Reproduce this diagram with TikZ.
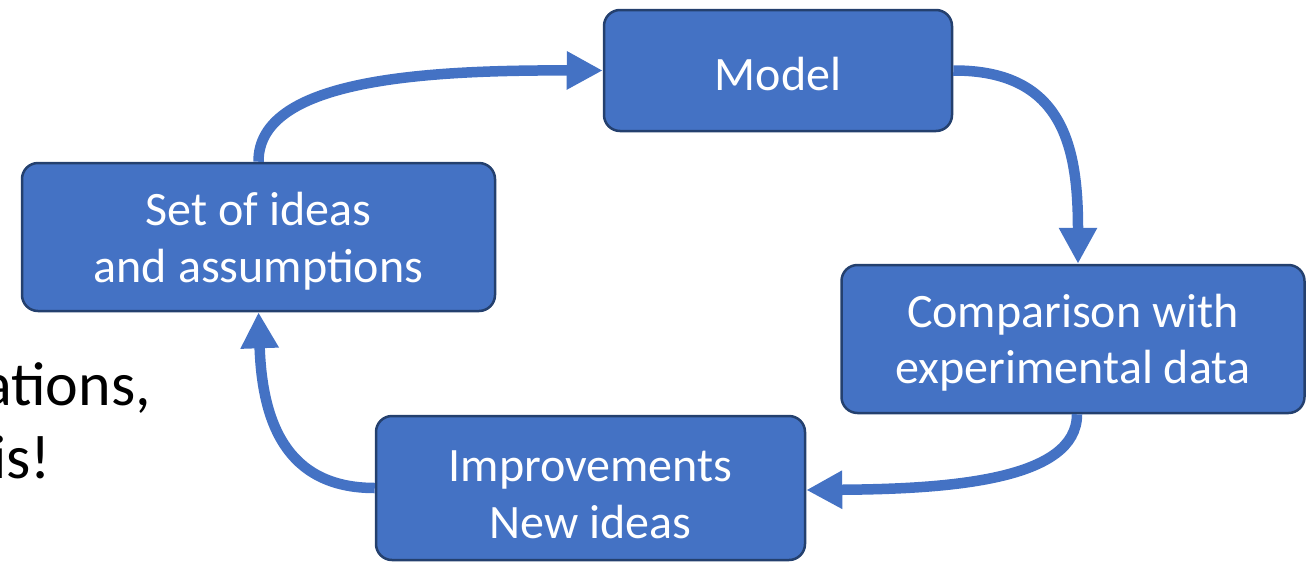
\documentclass[tikz,border=0pt]{standalone}
\usepackage{fontspec}
\setmainfont{Carlito}
\usetikzlibrary{arrows.meta}
\definecolor{boxfill}{HTML}{4472C4}
\definecolor{boxline}{HTML}{24406E}
\newcommand{\stagetext}[2]{\raisebox{-#1pt}[0pt][0pt]{\begin{tabular}[b]{@{}c@{}}#2\end{tabular}}}
\begin{document}
\begin{tikzpicture}[x=1pt,y=-1pt,
  stage/.style={draw=boxline,line width=2.5pt,fill=boxfill,rounded corners=16pt,
    text=white,align=center,inner sep=0pt,font=\fontsize{48}{56.5}\selectfont},
  flow/.style={draw=boxfill,line width=10.5pt,-{Triangle[length=36pt,width=36pt]}},
  side/.style={inner sep=0pt,anchor=base east,font=\fontsize{62}{73}\selectfont}]
\useasboundingbox (0,0) rectangle (1306,563);
\node[stage,minimum width=348pt,minimum height=121pt] (model) at (778,70.5) {\stagetext{19.5}{Model}};
\node[stage,minimum width=473pt,minimum height=148pt] (set) at (258.5,237) {\stagetext{45}{Set of ideas\\and assumptions}};
\node[stage,minimum width=463pt,minimum height=148pt] (comp) at (1073,339) {\stagetext{44.5}{Comparison with\\experimental data}};
\node[stage,minimum width=429pt,minimum height=144pt] (impr) at (590.5,488) {\stagetext{50}{Improvements\\New ideas}};
\node[side] (t1) at (151,405) {ations,};
\node[side] (t2) at (51,478) {is!};
\draw[flow] (set.north) .. controls (258,80) and (420,70) .. (model.west);
\draw[flow] (model.east) .. controls (1065,70) and (1078,150) .. ([xshift=5pt]comp.north);
\draw[flow] ([xshift=4pt]comp.south) .. controls (1077,480) and (950,489) .. ([yshift=-2pt]impr.east);
\draw[flow] (impr.west) .. controls (285,488) and (262,420) .. (set.south);
\end{tikzpicture}
\end{document}
